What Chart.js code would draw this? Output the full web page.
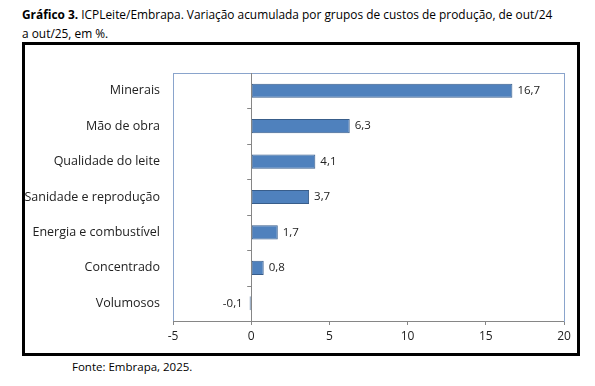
<!DOCTYPE html>
<html>
<head>
<meta charset="utf-8">
<script src="https://cdn.jsdelivr.net/npm/chart.js@4"></script>
<style>
  body { margin: 0; background: #fff; font-family: "Open Sans", sans-serif; color: #000; }
  #title { position: absolute; left: 22px; top: 5px; font-size: 11.9px; line-height: 19px; white-space: nowrap; }
  #box { position: absolute; left: 22px; top: 42px; width: 552px; height: 308px; border: 3px solid #000; }
  #source { position: absolute; left: 72px; top: 359px; font-size: 11.5px; }
</style>
</head>
<body>
<div id="title"><b>Gráfico 3.</b> ICPLeite/Embrapa. Variação acumulada por grupos de custos de produção, de out/24<br>a out/25, em %.</div>
<div id="box"><canvas id="chart" width="552" height="308"></canvas></div>
<div id="source">Fonte: Embrapa, 2025.</div>
<script>
// Chart data
const categories = ["Minerais", "Mão de obra", "Qualidade do leite", "Sanidade e reprodução",
  "Energia e combustível", "Concentrado", "Volumosos"];
const variation = [16.7, 6.3, 4.1, 3.7, 1.7, 0.8, -0.1];
const xTicks = [-5, 0, 5, 10, 15, 20];

const fontCat = { family: "Open Sans", size: 12.5 };
const fontTick = { family: "Open Sans", size: 12 };

// plot frame, zero line and category ticks
const framePlugin = {
  id: "frame",
  afterDraw(chart) {
    const { ctx, chartArea: a, scales } = chart;
    const x0 = scales.x.getPixelForValue(0);
    ctx.save();
    ctx.strokeStyle = "#8aa4cc";
    ctx.lineWidth = 1;
    ctx.strokeRect(a.left + 0.5, a.top + 0.5, a.right - a.left, a.bottom - a.top);
    ctx.strokeStyle = "#868686";
    ctx.beginPath();
    ctx.moveTo(Math.round(x0) + 0.5, a.top);
    ctx.lineTo(Math.round(x0) + 0.5, a.bottom);
    const step = (a.bottom - a.top) / categories.length;
    for (let i = 1; i < categories.length; i++) {
      const y = Math.round(a.top + step * i) + 0.5;
      ctx.moveTo(x0 - 4, y);
      ctx.lineTo(x0, y);
    }
    ctx.moveTo(a.left, a.bottom + 0.5);
    ctx.lineTo(a.right, a.bottom + 0.5);
    ctx.stroke();
    ctx.restore();
  }
};

// value labels next to bars
const labelPlugin = {
  id: "valueLabels",
  afterDatasetsDraw(chart) {
    const { ctx } = chart;
    const meta = chart.getDatasetMeta(0);
    ctx.save();
    ctx.font = "11.5px 'Open Sans'";
    ctx.fillStyle = "#222";
    ctx.textBaseline = "middle";
    meta.data.forEach((bar, i) => {
      const v = variation[i];
      const text = v.toFixed(1).replace(".", ",");
      if (v >= 0) {
        ctx.textAlign = "left";
        ctx.fillText(text, bar.x + 5, bar.y);
      } else {
        ctx.textAlign = "right";
        ctx.fillText(text, bar.base - 8, bar.y);
      }
    });
    ctx.restore();
  }
};

new Chart(document.getElementById("chart").getContext("2d"), {
  type: "bar",
  data: {
    labels: categories,
    datasets: [{
      data: variation,
      backgroundColor: "#4f81bd",
      borderColor: "#385d8a",
      borderWidth: 1,
      borderSkipped: false,
      barPercentage: 0.4,
      categoryPercentage: 1,
    }],
  },
  options: {
    indexAxis: "y",
    responsive: false,
    animation: false,
    layout: { padding: { top: 28, right: 13, left: 0, bottom: 0 } },
    plugins: {
      legend: { display: false },
      tooltip: { enabled: false },
    },
    scales: {
      x: {
        min: xTicks[0],
        max: xTicks[xTicks.length - 1],
        afterBuildTicks: axis => { axis.ticks = xTicks.map(v => ({ value: v })); },
        grid: { drawOnChartArea: false, tickLength: 4, color: "#868686" },
        border: { display: false },
        ticks: { font: fontTick, color: "#222", padding: 4, maxRotation: 0 },
        afterFit: axis => { axis.height = 32; },
      },
      y: {
        grid: { display: false },
        border: { display: false },
        ticks: { font: fontCat, color: "#222", padding: 5, crossAlign: "near" },
        afterFit: axis => { axis.width = 148; },
      },
    },
  },
  plugins: [framePlugin, labelPlugin],
});
</script>
</body>
</html>
